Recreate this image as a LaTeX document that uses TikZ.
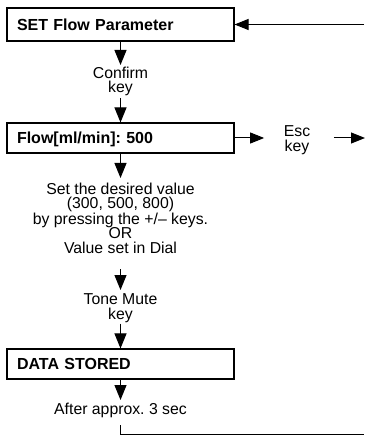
\documentclass[tikz,border=0pt]{standalone}
\usepackage{fontspec}
\setmainfont{Liberation Sans}
\usetikzlibrary{arrows.meta}
\frenchspacing
\begin{document}
\begin{tikzpicture}[x=1pt,y=-1pt,
  every node/.style={font=\fontsize{15.8}{14.5}\selectfont, inner sep=0pt, text=black},
  box/.style={draw, line width=1.1pt, minimum width=227pt, minimum height=#1, text width=207pt, inner xsep=10pt, align=left, font=\fontsize{16}{15}\selectfont\bfseries, text height=11.5pt, text depth=0pt},
  lbl/.style={align=center, anchor=north},
  arr/.style={line width=1pt, -{Triangle[length=15pt,width=12pt]}},
  hr/.style={line width=1pt, -{Triangle[length=14pt,width=11pt]}},
  ln/.style={line width=1pt}]
\useasboundingbox (0,0) rectangle (364,435);
\node[box=33pt] (b1) at (120.5,24.5) {SET Flow Parameter};
\node[lbl] (t1) at (120.5,66.5) {Confirm\\key};
\node[box=30pt] (b2) at (120.5,138) {Flow[ml/min]: 500};
\node[lbl] (esc) at (297,125.5) {Esc\\key};
\node[lbl] (t2) at (120.5,182.5) {Set the desired value\\(300, 500, 800)\\by pressing the +/– keys.\\OR\\Value set in Dial};
\node[lbl] (t3) at (120.5,293.5) {Tone Mute\\key};
\node[box=30pt] (b3) at (120.5,364) {DATA STORED};
\node[lbl] (t4) at (120.5,403) {After approx. 3 sec};
\coordinate (ctop) at (364,24.5);
\coordinate (cesc) at (365,138);
\coordinate (cbot) at (364,434);
\draw[arr, shorten >=1.5pt] (b1.south) -- (t1.north);
\draw[arr, shorten <=1.7pt] (t1.south) -- (b2.north);
\draw[arr, shorten >=4.5pt] (b2.south) -- (t2.north);
\draw[arr, shorten <=15.5pt, shorten >=3.5pt] (t2.south) -- (t3.north);
\draw[arr, shorten <=1pt] (t3.south) -- (b3.north);
\draw[arr, shorten >=3pt] (b3.south) -- (t4.north);
\draw[ln, shorten <=7pt] (t4.south) |- (cbot);
\draw[hr] (ctop) -- (b1.east);
\draw[hr, shorten >=19.5pt] (b2.east) -- (b2.east -| esc.west);
\draw[hr, shorten <=23.5pt] (b2.east -| esc.east) -- (cesc);
\end{tikzpicture}
\end{document}
